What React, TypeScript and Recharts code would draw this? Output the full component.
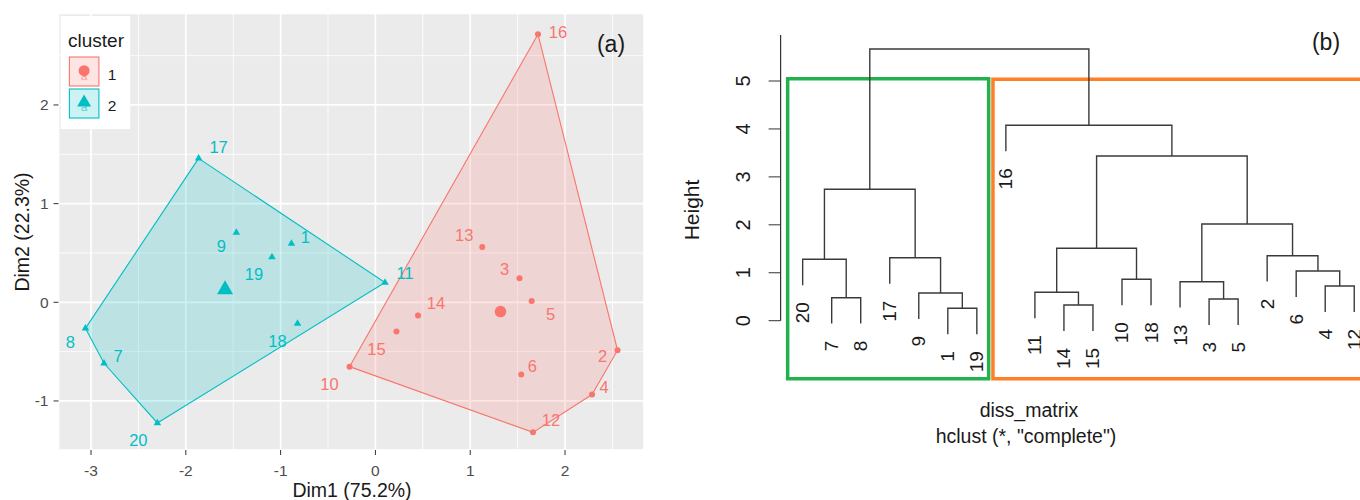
import React from 'react';
import {
  ScatterChart, Scatter, XAxis, YAxis, CartesianGrid, Polygon,
  ComposedChart, Line, ReferenceLine, ReferenceArea,
} from 'recharts';

const FONT = '"Liberation Sans", Arial, Helvetica, sans-serif';
const RED = '#F8766D';
const CYAN = '#00BFC4';
const INK = '#1a1a1a';

// ---- panel (a): cluster plot ----
const ids1 = ['16', '13', '3', '5', '14', '15', '10', '2', '6', '4', '12'];
const dim1Cl1 = [1.715, 1.127, 1.52, 1.648, 0.449, 0.222, -0.273, 2.554, 1.538, 2.285, 1.662];
const dim2Cl1 = [2.716, 0.56, 0.243, 0.013, -0.135, -0.297, -0.652, -0.486, -0.733, -0.935, -1.318];
const hull1 = ['16', '2', '4', '12', '10'];
const centre1 = [1.319, -0.094];

const ids2 = ['17', '9', '1', '19', '11', '18', '8', '7', '20'];
const dim1Cl2 = [-1.865, -1.467, -0.886, -1.091, 0.101, -0.822, -3.059, -2.863, -2.3];
const dim2Cl2 = [1.459, 0.706, 0.595, 0.459, 0.2, -0.216, -0.264, -0.618, -1.223];
const hull2 = ['17', '11', '20', '7', '8'];
const centre2 = [-1.586, 0.129];

const dimTicksX = [-3, -2, -1, 0, 1, 2];
const dimTicksY = [-1, 0, 1, 2];
const minorX = [-2.5, -1.5, -0.5, 0.5, 1.5, 2.5];
const minorY = [-0.5, 0.5, 1.5, 2.5];

// ---- panel (b): dendrogram ----
const leafOrder = ['20', '7', '8', '17', '9', '1', '19', '16', '11', '14', '15', '10', '18', '13', '3', '5', '2', '6', '4', '12'];
// hclust merge matrix: negative = leaf id, positive = earlier merge step
const mergeA = [-1, -14, -3, -7, -9, -11, -4, -13, -10, -6, -20, -17, -2, 6, 8, 11, 14, -16, 16];
const mergeB = [-19, -15, -5, -8, 1, 2, -12, 3, -18, 7, 4, 5, 10, 9, 13, 12, 15, 17, 18];
const mergeHeight = [0.259, 0.327, 0.453, 0.48, 0.578, 0.592, 0.724, 0.814, 0.864, 1.037, 1.281, 1.314, 1.356, 1.51, 2.017, 2.741, 3.436, 4.076, 5.667];
const heightTicks = [0, 1, 2, 3, 4, 5];

// label nudges (px) for the point labels, like ggrepel placed them
const nudge: Record<string, [number, number]> = {
  '17': [20, -11], '9': [-15, 13], '1': [14, -7], '19': [-18, 17], '11': [20, -10],
  '18': [-20, 17], '8': [-15, 14], '7': [14, -7], '20': [-19, 17],
  '16': [20, -2], '13': [-18, -12], '3': [-15, -9], '5': [19, 13], '14': [18, -13],
  '15': [-20, 17], '10': [-20, 17], '2': [-15, 6], '6': [11, -9], '4': [12, -8], '12': [18, -12],
};

const toPoints = (ids: string[], xs: number[], ys: number[]) =>
  ids.map((id, i) => ({ id, x: xs[i], y: ys[i] }));
const pts1 = toPoints(ids1, dim1Cl1, dim2Cl1);
const pts2 = toPoints(ids2, dim1Cl2, dim2Cl2);
const hullPts1 = hull1.map((id) => pts1.find((p) => p.id === id));
const hullPts2 = hull2.map((id) => pts2.find((p) => p.id === id));

const triPath = (cx: number, cy: number, w: number) => {
  const h = w * 0.866;
  return `M${cx},${cy - (h * 2) / 3}L${cx + w / 2},${cy + h / 3}L${cx - w / 2},${cy + h / 3}Z`;
};

const pointShape = (color: string, kind: 'circle' | 'tri', size: number, withLabel: boolean) =>
  (props: any) => {
    const { cx, cy, payload } = props;
    const n = nudge[payload.id] || [0, 0];
    return (
      <g>
        {kind === 'circle'
          ? <circle cx={cx} cy={cy} r={size / 2} fill={color} />
          : <path d={triPath(cx, cy, size)} fill={color} />}
        {withLabel && (
          <text x={cx + n[0]} y={cy + n[1]} textAnchor="middle" dominantBaseline="central"
            fontSize={16.5} fill={color}>{payload.id}</text>
        )}
      </g>
    );
  };

const hullLine = (color: string) => (p: any) => (
  <Polygon points={p.points} fill={color} fillOpacity={0.2} stroke={color} strokeWidth={1.1} />
);

// dendrogram geometry from the merge matrix (same rules as plot.hclust)
const hang = 0.1 * (Math.max(...mergeHeight) - Math.min(...mergeHeight));
const leafX = (id: number) => leafOrder.indexOf(String(id)) + 1;
const nodeX: number[] = [];
const leaves: { x: number; y: number; label: string }[] = [];
const branches = mergeHeight.map((h, i) => {
  const child = (c: number) => {
    if (c < 0) {
      const pt = { x: leafX(-c), y: h - hang };
      leaves.push({ ...pt, label: String(-c) });
      return pt;
    }
    return { x: nodeX[c - 1], y: mergeHeight[c - 1] };
  };
  const a = child(mergeA[i]);
  const b = child(mergeB[i]);
  nodeX[i] = (a.x + b.x) / 2;
  return [
    { x: a.x, y: a.y }, { x: a.x, y: h }, { x: b.x, y: h }, { x: b.x, y: b.y },
  ];
});

const LeafLabel = (props: any) => {
  const { cx, cy, payload } = props;
  const ty = cy + 17;
  return (
    <text x={cx} y={ty} transform={`rotate(-90 ${cx} ${ty})`} textAnchor="end"
      dominantBaseline="central" fontSize={19} fill={INK}>{payload.label}</text>
  );
};

const HeightTick = (props: any) => {
  const { x, y, payload } = props;
  return (
    <text x={x} y={y} transform={`rotate(-90 ${x} ${y})`} textAnchor="middle"
      dominantBaseline="central" fontSize={20} fill={INK}>{payload.value}</text>
  );
};

const App = () => {
  return (
    <div style={{ position: 'relative', width: 1360, height: 500, overflow: 'hidden', background: '#fff', fontFamily: FONT }}>
      <style>{'body{margin:0}'}</style>

      <div style={{ position: 'absolute', left: 0, top: 0 }}>
        <ScatterChart width={680} height={500} margin={{ top: 13.3, right: 36, bottom: 20, left: 0 }}>
          <CartesianGrid fill="#EBEBEB" stroke="#fff" strokeWidth={0.8}
            verticalValues={minorX} horizontalValues={minorY} />
          <CartesianGrid stroke="#fff" strokeWidth={1.7} />
          <XAxis type="number" dataKey="x" domain={[-3.343, 2.833]} ticks={dimTicksX}
            allowDataOverflow axisLine={false} tickSize={5} tickMargin={10} stroke="#333"
            tick={{ fill: '#4D4D4D', fontSize: 15.5 }} height={30} />
          <YAxis type="number" dataKey="y" domain={[-1.497, 2.929]} ticks={dimTicksY}
            allowDataOverflow axisLine={false} tickSize={5} tickMargin={5} stroke="#333"
            tick={{ fill: '#4D4D4D', fontSize: 15.5 }} width={58.5} />
          <Scatter data={hullPts1} fill={RED} shape={() => <g />} line={hullLine(RED)} isAnimationActive={false} />
          <Scatter data={hullPts2} fill={CYAN} shape={() => <g />} line={hullLine(CYAN)} isAnimationActive={false} />
          <Scatter data={pts1} fill={RED} shape={pointShape(RED, 'circle', 6, true)} isAnimationActive={false} />
          <Scatter data={pts2} fill={CYAN} shape={pointShape(CYAN, 'tri', 7.5, true)} isAnimationActive={false} />
          <Scatter data={[{ id: 'c1', x: centre1[0], y: centre1[1] }]} fill={RED}
            shape={pointShape(RED, 'circle', 11.5, false)} isAnimationActive={false} />
          <Scatter data={[{ id: 'c2', x: centre2[0], y: centre2[1] }]} fill={CYAN}
            shape={pointShape(CYAN, 'tri', 16, false)} isAnimationActive={false} />
        </ScatterChart>
      </div>

      <div style={{ position: 'absolute', left: 680, top: 0 }}>
        <ComposedChart width={700} height={500} margin={{ top: 33.06, right: 3.7, bottom: 83.42, left: 0 }}>
          <XAxis type="number" dataKey="x" domain={[0.24, 20.76]} allowDataOverflow hide />
          <YAxis type="number" dataKey="y" domain={[-2, 6]} ticks={heightTicks} allowDataOverflow
            axisLine={false} tickSize={12} tickMargin={26} stroke="#333" width={100.6}
            tick={<HeightTick />} />
          <ReferenceLine segment={[{ x: 0.24, y: 0 }, { x: 0.24, y: 5.96 }]} stroke="#333"
            strokeWidth={1.2} ifOverflow="visible" />
          {branches.map((d, i) => (
            <Line key={i} data={d} dataKey="y" type="linear" stroke="#3a3a3a" strokeWidth={1.4}
              dot={false} activeDot={false} isAnimationActive={false} />
          ))}
          <Scatter data={leaves} shape={<LeafLabel />} isAnimationActive={false} />
          <ReferenceArea x1={0.483} x2={7.407} y1={-1.21} y2={5.048} fill="none" stroke="#22B14C"
            strokeWidth={3.5} ifOverflow="visible" />
          <ReferenceArea x1={7.555} x2={20.9} y1={-1.21} y2={5.035} fill="none" stroke="#FF7F27"
            strokeWidth={3.5} ifOverflow="visible" />
        </ComposedChart>
      </div>

      <svg width={1360} height={500} style={{ position: 'absolute', left: 0, top: 0, pointerEvents: 'none' }}>
        <g transform="translate(60.7,16)">
          <rect width={69.5} height={113} fill="#fff" />
          <text x={7.3} y={24} dominantBaseline="central" fontSize={19} fill={INK}>cluster</text>
          <rect x={8.7} y={41} width={29.5} height={29} fill={RED} fillOpacity={0.2} stroke={RED} strokeWidth={1.1} />
          <text x={23.4} y={60} textAnchor="middle" dominantBaseline="central" fontSize={12} fill={RED} opacity={0.6}>a</text>
          <circle cx={23.4} cy={54.7} r={5.5} fill={RED} />
          <text x={51.3} y={58} textAnchor="middle" dominantBaseline="central" fontSize={15.5} fill={INK}>1</text>
          <rect x={8.7} y={73} width={29.5} height={29} fill={CYAN} fillOpacity={0.2} stroke={CYAN} strokeWidth={1.1} />
          <text x={23.4} y={91} textAnchor="middle" dominantBaseline="central" fontSize={12} fill={CYAN} opacity={0.6}>a</text>
          <path d={triPath(23.4, 86.5, 14)} fill={CYAN} />
          <text x={51.3} y={89} textAnchor="middle" dominantBaseline="central" fontSize={15.5} fill={INK}>2</text>
        </g>
        <text x={611} y={44} textAnchor="middle" dominantBaseline="central" fontSize={23} fill={INK}>(a)</text>
        <text x={352} y={490} textAnchor="middle" dominantBaseline="central" fontSize={19.5} fill={INK}>Dim1 (75.2%)</text>
        <text x={22} y={232} textAnchor="middle" dominantBaseline="central" fontSize={19.5} fill={INK}
          transform="rotate(-90 22 232)">Dim2 (22.3%)</text>

        <text x={1326} y={42} textAnchor="middle" dominantBaseline="central" fontSize={23} fill={INK}>(b)</text>
        <text x={691} y={210} textAnchor="middle" dominantBaseline="central" fontSize={21} fill={INK}
          transform="rotate(-90 691 210)">Height</text>
        <text x={1029} y={410} textAnchor="middle" dominantBaseline="central" fontSize={19.5} fill={INK}>diss_matrix</text>
        <text x={1026} y={436} textAnchor="middle" dominantBaseline="central" fontSize={19.5} fill={INK}>hclust (*, "complete")</text>
      </svg>
    </div>
  );
};

export default App;
